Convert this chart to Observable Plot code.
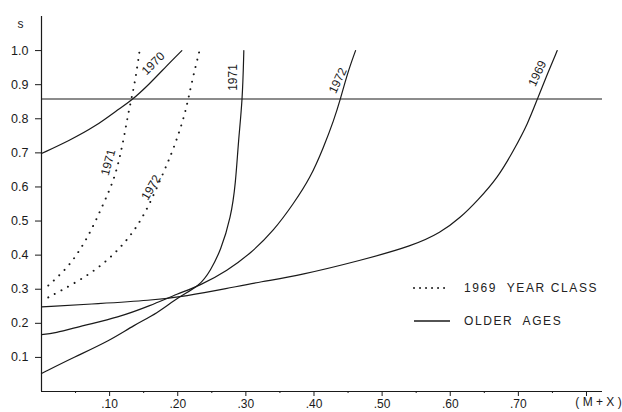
<!DOCTYPE html>
<html>
<head>
<meta charset="utf-8">
<script src="https://cdn.jsdelivr.net/npm/d3@7"></script>
<script src="https://cdn.jsdelivr.net/npm/@observablehq/plot@0.6"></script>
<style>
  html, body { margin: 0; padding: 0; background: #fff; }
  #wrap { position: relative; width: 622px; height: 412px; font-family: "Liberation Sans", Arial, sans-serif; }
  .leg { position: absolute; font-size: 12px; letter-spacing: 1.6px; color: #222; line-height: 12px; }
  .swatch { position: absolute; width: 40px; height: 6px; overflow: visible; }
</style>
</head>
<body>
<div id="wrap"></div>
<script>
// 1969 year class (dotted)
const yc1971X = [0.010, 0.037, 0.056, 0.073, 0.091, 0.106, 0.115, 0.122, 0.129, 0.137, 0.144];
const yc1971Y = [0.311, 0.36, 0.413, 0.472, 0.551, 0.619, 0.686, 0.756, 0.833, 0.903, 1.00];
const yc1972X = [0.010, 0.051, 0.085, 0.115, 0.140, 0.159, 0.176, 0.191, 0.203, 0.213, 0.220, 0.232];
const yc1972Y = [0.276, 0.32, 0.364, 0.419, 0.481, 0.551, 0.628, 0.698, 0.765, 0.833, 0.903, 1.00];
// older ages (solid)
const old1970X = [0.0, 0.041, 0.081, 0.110, 0.132, 0.159, 0.184, 0.206];
const old1970Y = [0.698, 0.736, 0.78, 0.824, 0.853, 0.903, 0.956, 1.00];
const old1971X = [0.0, 0.047, 0.101, 0.135, 0.170, 0.200, 0.233, 0.248, 0.263, 0.278, 0.285, 0.289, 0.295, 0.297];
const old1971Y = [0.053, 0.10, 0.15, 0.194, 0.229, 0.276, 0.311, 0.355, 0.413, 0.51, 0.61, 0.736, 0.853, 1.00];
const old1972X = [0.0, 0.018, 0.062, 0.112, 0.160, 0.200, 0.233, 0.273, 0.307, 0.341, 0.370, 0.395, 0.414, 0.429, 0.439, 0.449, 0.461];
const old1972Y = [0.167, 0.17, 0.194, 0.217, 0.252, 0.287, 0.311, 0.355, 0.405, 0.472, 0.551, 0.628, 0.716, 0.795, 0.859, 0.933, 1.00];
const old1969X = [0.0, 0.085, 0.159, 0.213, 0.272, 0.322, 0.38, 0.468, 0.546, 0.586, 0.615, 0.640, 0.670, 0.693, 0.714, 0.728, 0.743, 0.757];
const old1969Y = [0.248, 0.258, 0.267, 0.28, 0.302, 0.322, 0.341, 0.384, 0.428, 0.466, 0.51, 0.56, 0.628, 0.707, 0.786, 0.859, 0.933, 1.00];

const refS = 0.858;

// curve labels
const labelText = ["1970", "1971", "1972", "1971", "1972", "1969"];
const labelX = [0.164, 0.098, 0.161, 0.282, 0.435, 0.728];
const labelY = [0.962, 0.672, 0.598, 0.921, 0.912, 0.933];
const labelRot = [-45, -75, -60, -90, -65, -65];

// ticks
const yTicks = [0.1, 0.2, 0.3, 0.4, 0.5, 0.6, 0.7, 0.8, 0.9, 1.0];
const xTicks = [0.1, 0.2, 0.3, 0.4, 0.5, 0.6, 0.7, 0.8];
const xTickLabels = [".10", ".20", ".30", ".40", ".50", ".60", ".70"];
const xMinor = [0.05, 0.15, 0.25, 0.35, 0.45, 0.55, 0.65, 0.75];
const xAxisTitle = "( M + X )";
const yAxisTitle = "s";

const legendLabels = ["1969  YEAR CLASS", "OLDER  AGES"];

const toPts = (xs, ys) => xs.map((x, i) => ({x, y: ys[i]}));
const dotted = [toPts(yc1971X, yc1971Y), toPts(yc1972X, yc1972Y)];
const solid = [toPts(old1970X, old1970Y), toPts(old1971X, old1971Y), toPts(old1972X, old1972Y), toPts(old1969X, old1969Y)];
const labels = labelText.map((t, i) => ({t, x: labelX[i], y: labelY[i], r: labelRot[i]}));

const ink = "#1a1a1a";
const dotDash = "0.01,7.5";
const chart = Plot.plot({
  width: 622,
  height: 412,
  marginLeft: 41,
  marginRight: 20,
  marginTop: 16,
  marginBottom: 21,
  style: {fontFamily: "Liberation Sans, Arial, sans-serif", fontSize: "12px", color: ink, background: "#fff"},
  x: {type: "linear", domain: [0, 0.8235]},
  y: {type: "linear", domain: [0, 1.1]},
  marks: [
    Plot.ruleX([0], {stroke: ink, strokeWidth: 1.2}),
    Plot.ruleY([0], {stroke: ink, strokeWidth: 1.2}),
    Plot.ruleY([refS], {stroke: ink, strokeWidth: 1.1}),
    Plot.axisY({ticks: yTicks, tickFormat: d3.format(".1f"), tickSize: 6, tickPadding: 7, label: null, fontSize: 12.5, stroke: ink}),
    Plot.axisX({ticks: xTicks, tickFormat: (d, i) => xTickLabels[i] ?? "", tickSize: 5, tickPadding: 3, label: null, fontSize: 12, stroke: ink}),
    Plot.axisX({ticks: xMinor, tickFormat: () => "", tickSize: 2, label: null, stroke: ink}),
    Plot.text([xAxisTitle], {x: () => xTicks[xTicks.length - 1], frameAnchor: "bottom", dy: 14, dx: 12, fontSize: 12, fill: ink}),
    ...dotted.map(pts => Plot.line(pts, {x: "x", y: "y", curve: "basis", stroke: ink, strokeWidth: 2, strokeDasharray: dotDash, strokeLinecap: "round"})),
    ...solid.map(pts => Plot.line(pts, {x: "x", y: "y", curve: "basis", stroke: ink, strokeWidth: 1.2})),
    Plot.text(labels, {x: "x", y: "y", text: "t", rotate: "r", fontSize: 12, fill: ink}),
    Plot.text([yAxisTitle], {frameAnchor: "top-left", dx: -24, dy: 3, fontSize: 12, fill: ink})
  ]
});
const wrap = document.getElementById("wrap");
wrap.appendChild(chart);

// legend overlay
const legY = [288, 321];
const NS = "http://www.w3.org/2000/svg";
legendLabels.forEach((txt, i) => {
  const sw = document.createElementNS(NS, "svg");
  sw.setAttribute("class", "swatch");
  sw.setAttribute("width", "40");
  sw.setAttribute("height", "6");
  sw.style.left = "412px";
  sw.style.top = (legY[i] - 3) + "px";
  const ln = document.createElementNS(NS, "line");
  ln.setAttribute("x1", "2"); ln.setAttribute("x2", "38");
  ln.setAttribute("y1", "3"); ln.setAttribute("y2", "3");
  ln.setAttribute("stroke", ink);
  if (i === 0) {
    ln.setAttribute("stroke-width", "2");
    ln.setAttribute("stroke-dasharray", "0.01,6");
    ln.setAttribute("stroke-linecap", "round");
  } else {
    ln.setAttribute("stroke-width", "1.3");
  }
  sw.appendChild(ln);
  wrap.appendChild(sw);
  const t = document.createElement("div");
  t.className = "leg";
  t.textContent = txt;
  t.style.whiteSpace = "pre";
  t.style.left = "464px";
  t.style.top = (legY[i] - 6) + "px";
  wrap.appendChild(t);
});
</script>
</body>
</html>
